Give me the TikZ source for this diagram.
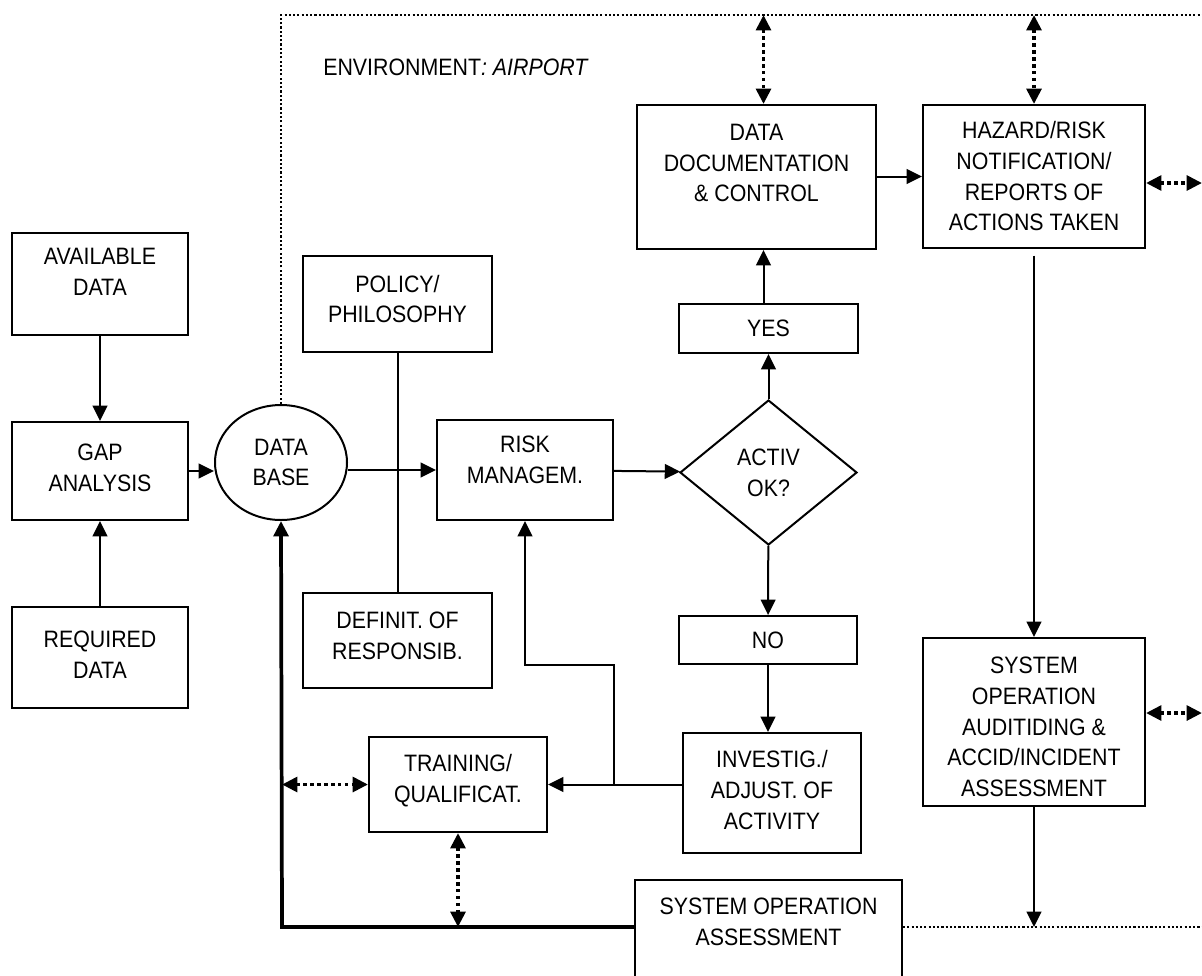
\documentclass[tikz,border=0pt]{standalone}
\usepackage{fontspec}
\setmainfont[FakeStretch=0.9]{Liberation Sans}
\usetikzlibrary{arrows.meta}
\usetikzlibrary{shapes.geometric}
\newcommand{\dn}[1]{\rule[-#1]{0pt}{0pt}}

\begin{document}
\begin{tikzpicture}[x=0.75pt,y=0.75pt,yscale=-1,xscale=1,
  >={Triangle[length=11.5pt,width=11pt]},
  box/.style={draw,line width=1.5pt,align=center,inner sep=0pt,font=\fontsize{17.8}{23}\selectfont},
  oval/.style={box,ellipse},
  choice/.style={box,diamond},
  link/.style={->,line width=1.5pt},
  backline/.style={->,line width=2.8pt},
  dlink/.style={<->,line width=2.8pt,dash pattern=on 2.6pt off 2.6pt},
  envline/.style={line width=1.6pt,dash pattern=on 1.6pt off 1.6pt}]
\useasboundingbox (0,0) rectangle (1202,975);

%Environment border
\coordinate (topR) at (1202,15);
\coordinate (botL) at (282,927);
\coordinate (botR) at (1202,927);
\node[font=\fontsize{17.8}{23}\selectfont,anchor=base west,inner sep=0pt] (env) at (323,75) {ENVIRONMENT\textit{: AIRPORT}};

% Left column
\node[box,minimum width=132pt,minimum height=76.5pt] (avail) at (100,284) {AVAILABLE\\DATA\dn{18pt}};
\node[box,minimum width=132pt,minimum height=73.5pt] (gap) at (100,471) {GAP\\ANALYSIS\dn{5pt}};
\node[box,minimum width=132pt,minimum height=75.75pt] (req) at (100,657.5) {REQUIRED\\DATA\dn{4pt}};
\node[oval,minimum width=99pt,minimum height=86.25pt] (db) at (281,462.5) {DATA\\BASE};

% Middle
\node[box,minimum width=141.75pt,minimum height=72pt] (policy) at (397.5,304) {POLICY/\\PHILOSOPHY\dn{7.5pt}};
\node[box,minimum width=141.75pt,minimum height=71.25pt] (definit) at (397.5,640.5) {DEFINIT. OF\\RESPONSIB.\dn{7pt}};
\node[box,minimum width=132pt,minimum height=75pt] (risk) at (525,470) {RISK\\MANAGEM.\dn{15pt}};
\node[choice,minimum width=132.75pt,minimum height=108.75pt] (act) at (768.5,472.5) {ACTIV\\OK?};
\node[box,minimum width=134.25pt,minimum height=36.75pt] (yes) at (768.5,328.5) {YES};
\node[box,minimum width=133.5pt,minimum height=36pt] (no) at (768,640) {NO};
\node[box,minimum width=179.25pt,minimum height=108pt] (dd) at (756.5,177) {DATA\\DOCUMENTATION\\\& CONTROL\dn{21pt}};
\node[box,minimum width=133.5pt,minimum height=71.25pt] (train) at (458,784.5) {TRAINING/\\QUALIFICAT.\dn{9pt}};
\node[box,minimum width=133.5pt,minimum height=90pt] (inv) at (772,793) {INVESTIG./\\ADJUST. OF\\ACTIVITY\dn{4.5pt}};
\node[box,minimum width=200.25pt,minimum height=90pt] (soa) at (768.5,940) {SYSTEM OPERATION\\ASSESSMENT\dn{27pt}};

% Right column
\node[box,minimum width=166.5pt,minimum height=107.25pt] (haz) at (1034,176.5) {HAZARD/RISK\\NOTIFICATION/\\REPORTS OF\\ACTIONS TAKEN};
\node[box,minimum width=166.5pt,minimum height=126pt] (audit) at (1034,722) {\rule{0pt}{20pt}SYSTEM\\OPERATION\\AUDITIDING \&\\ACCID/INCIDENT\\ASSESSMENT};

\coordinate (jn) at (risk.east |- train.east);

% Solid connectors
\draw[link] (avail) -- (gap);
\draw[link] (req) -- (gap);
\draw[link] (gap.east) -- (db.west |- gap.east);
\draw[link] (db.east |- risk.west) -- (risk.west);
\draw[line width=1.5pt] (policy) -- (definit);
\draw[link] (risk) -- (act);
\draw[link] (act) -- (yes);
\draw[link] ([xshift=-3.75pt]yes.north) -- ([xshift=-3.75pt]yes.north |- dd.south);
\draw[link] (dd.east |- haz.west) -- (haz.west);
\draw[link] (act) -- (no);
\draw[link] (no.south) -- (no.south |- inv.north);
\draw[link] (inv.west |- train.east) -- (train.east);
\draw[link] (jn) -- (jn |- no.south) -| (risk.south);
\draw[link,shorten <=5pt] (haz) -- (audit);
\draw[link] (audit.south) -- (audit.south |- botR);
\draw[backline] (botL -| soa.west) -- (botL) -- (db.south);

% Dotted connectors
\draw[envline] (db.north) -- (db.north |- topR) -- (topR);
\draw[envline] (botR -| soa.east) -- (botR);
\draw[dlink] ([xshift=-3.75pt]yes.north |- topR) -- ([xshift=-3.75pt]yes.north |- dd.north);
\draw[dlink] (haz.north |- topR) -- (haz.north);
\draw[dlink] (haz.east |- 0,183) -- (1202,183);
\draw[dlink] (audit.east |- 0,713) -- (1202,713);
\draw[dlink] (train.west -| botL) -- (train.west);
\draw[dlink] (train.south) -- (train.south |- botL);

\end{tikzpicture}
\end{document}
